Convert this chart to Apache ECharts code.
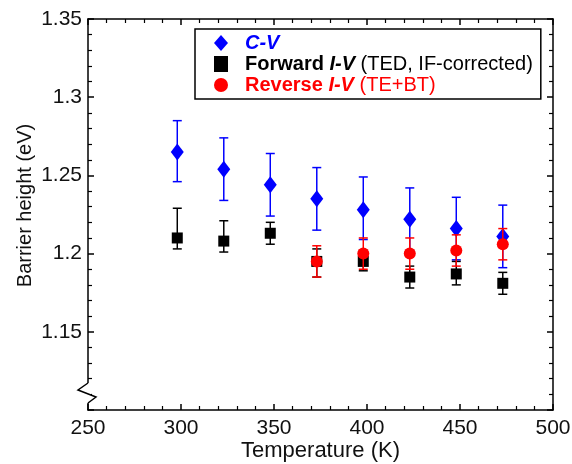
<!DOCTYPE html>
<html>
<head>
<meta charset="utf-8">
<script src="https://cdn.jsdelivr.net/npm/echarts@6/dist/echarts.min.js"></script>
<style>
  html, body { margin: 0; padding: 0; background: #fff; }
  #chart { width: 572px; height: 464px; }
</style>
</head>
<body>
<div id="chart"></div>
<script>
var temps = [298, 323, 348, 373, 398, 423, 448, 473];

var cvVal  = [1.265, 1.254, 1.244, 1.235, 1.228, 1.222, 1.216, 1.211];
var cvLow  = [1.246, 1.234, 1.224, 1.215, 1.209, 1.202, 1.196, 1.191];
var cvHigh = [1.285, 1.274, 1.264, 1.255, 1.249, 1.242, 1.236, 1.231];

var fwdVal  = [1.210, 1.208, 1.213, 1.195, 1.195, 1.185, 1.187, 1.181];
var fwdLow  = [1.203, 1.201, 1.206, 1.185, 1.189, 1.178, 1.180, 1.174];
var fwdHigh = [1.229, 1.221, 1.220, 1.203, 1.202, 1.192, 1.195, 1.188];

var revTemps = [373, 398, 423, 448, 473];
var revVal  = [1.195, 1.200, 1.200, 1.202, 1.206];
var revLow  = [1.185, 1.190, 1.190, 1.192, 1.196];
var revHigh = [1.205, 1.210, 1.210, 1.212, 1.216];

var yTicks = [1.15, 1.2, 1.25, 1.3, 1.35];

var font = 'Liberation Sans, Arial, Helvetica, sans-serif';

function points(xs, ys) {
    return xs.map(function (x, i) { return [x, ys[i]]; });
}
function bars(xs, lo, hi) {
    return xs.map(function (x, i) { return [x, lo[i], hi[i]]; });
}

function errorBar(color) {
    return function (params, api) {
        var top = api.coord([api.value(0), api.value(2)]);
        var bot = api.coord([api.value(0), api.value(1)]);
        var w = 4.5;
        var style = { stroke: color, lineWidth: 1.5 };
        return {
            type: 'group',
            children: [
                { type: 'line', shape: { x1: top[0], y1: top[1], x2: bot[0], y2: bot[1] }, style: style },
                { type: 'line', shape: { x1: top[0] - w, y1: top[1], x2: top[0] + w, y2: top[1] }, style: style },
                { type: 'line', shape: { x1: bot[0] - w, y1: bot[1], x2: bot[0] + w, y2: bot[1] }, style: style }
            ]
        };
    };
}

var chart = echarts.init(document.getElementById('chart'));

function axisLine() { return { show: true, lineStyle: { color: '#000', width: 1.5 } }; }
function tick() { return { show: true, inside: true, length: 6, lineStyle: { color: '#000', width: 1.5 } }; }
function minor() { return { show: true, splitNumber: 5, length: 4, lineStyle: { color: '#000', width: 1.2 } }; }

var rs = function (o) {
    o.fontFamily = font;
    o.fontSize = 20;
    o.lineHeight = 19;
    return o;
};

var option = {
    animation: false,
    backgroundColor: '#fff',
    grid: { left: 88, right: 19, top: 19, bottom: 54, outerBoundsMode: 'none', containLabel: false },
    legend: {
        orient: 'vertical',
        left: 195,
        top: 29,
        padding: [4, 8, 4, 19],
        itemGap: 1,
        itemWidth: 14,
        itemHeight: 16,
        borderColor: '#000',
        borderWidth: 1.5,
        backgroundColor: '#fff',
        textStyle: {
            fontFamily: font,
            fontSize: 20,
            lineHeight: 19,
            rich: {
                sp: rs({ width: 12 }),
                cv: rs({ fontWeight: 'bold', fontStyle: 'italic', color: '#0000ff' }),
                kb: rs({ fontWeight: 'bold', color: '#000' }),
                kbi: rs({ fontWeight: 'bold', fontStyle: 'italic', color: '#000' }),
                kn: rs({ color: '#000' }),
                rb: rs({ fontWeight: 'bold', color: '#ff0000' }),
                rbi: rs({ fontWeight: 'bold', fontStyle: 'italic', color: '#ff0000' }),
                rn: rs({ color: '#ff0000' })
            }
        },
        formatter: function (name) {
            if (name === 'C-V') return '{sp|}{cv|C-V}';
            if (name === 'Forward I-V') return '{sp|}{kb|Forward }{kbi|I-V}{kn| (TED, IF-corrected)}';
            return '{sp|}{rb|Reverse }{rbi|I-V}{rn| (TE+BT)}';
        },
        data: [
            { name: 'C-V', icon: 'diamond' },
            { name: 'Forward I-V', icon: 'rect', itemStyle: { borderWidth: 0 } },
            { name: 'Reverse I-V', icon: 'circle' }
        ]
    },
    xAxis: [
        {
            type: 'value',
            min: 250,
            max: 500,
            interval: 50,
            name: 'Temperature (K)',
            nameLocation: 'middle',
            nameGap: 30,
            nameMoveOverlap: false,
            nameTextStyle: { fontFamily: font, fontSize: 22, color: '#111' },
            axisLine: axisLine(),
            axisTick: tick(),
            minorTick: minor(),
            splitLine: { show: false },
            axisLabel: { fontFamily: font, fontSize: 21, color: '#111', margin: 8 }
        },
        {
            type: 'value',
            position: 'top',
            min: 250,
            max: 500,
            interval: 50,
            axisLine: axisLine(),
            axisTick: tick(),
            minorTick: minor(),
            splitLine: { show: false },
            axisLabel: { show: false }
        }
    ],
    yAxis: [
        {
            type: 'value',
            min: 1.1,
            max: 1.35,
            interval: 0.05,
            name: 'Barrier height (eV)',
            nameLocation: 'middle',
            nameGap: 53,
            nameMoveOverlap: false,
            nameTextStyle: { fontFamily: font, fontSize: 20, color: '#111', padding: [0, 0, 0, 18] },
            axisLine: axisLine(),
            axisTick: tick(),
            minorTick: minor(),
            splitLine: { show: false },
            axisLabel: {
                fontFamily: font,
                fontSize: 21,
                color: '#111',
                margin: 6,
                formatter: function (v) {
                    for (var i = 0; i < yTicks.length; i++) {
                        if (Math.abs(v - yTicks[i]) < 1e-6) return String(yTicks[i]);
                    }
                    return '';
                }
            }
        },
        {
            type: 'value',
            position: 'right',
            min: 1.1,
            max: 1.35,
            interval: 0.05,
            axisLine: axisLine(),
            axisTick: tick(),
            minorTick: minor(),
            splitLine: { show: false },
            axisLabel: { show: false }
        }
    ],
    series: [
        {
            type: 'custom',
            name: 'cvErr',
            renderItem: errorBar('#0000ff'),
            data: bars(temps, cvLow, cvHigh),
            z: 2
        },
        {
            type: 'scatter',
            name: 'C-V',
            symbol: 'diamond',
            symbolSize: [13, 17],
            itemStyle: { color: '#0000ff', opacity: 1 },
            data: points(temps, cvVal),
            z: 3
        },
        {
            type: 'custom',
            name: 'fwdErr',
            renderItem: errorBar('#000000'),
            data: bars(temps, fwdLow, fwdHigh),
            z: 4
        },
        {
            type: 'scatter',
            name: 'Forward I-V',
            symbol: 'rect',
            symbolSize: 11,
            itemStyle: { color: '#000000', opacity: 1 },
            data: points(temps, fwdVal),
            z: 5
        },
        {
            type: 'custom',
            name: 'revErr',
            renderItem: errorBar('#ff0000'),
            data: bars(revTemps, revLow, revHigh),
            z: 6
        },
        {
            type: 'scatter',
            name: 'Reverse I-V',
            symbol: 'circle',
            symbolSize: 12,
            itemStyle: { color: '#ff0000', opacity: 1 },
            data: points(revTemps, revVal),
            z: 7
        }
    ],
    graphic: [
        // axis break mark
        { type: 'rect', z: 100, shape: { x: 85, y: 383, width: 6, height: 20 }, style: { fill: '#fff' } },
        { type: 'polyline', z: 101, shape: { points: [[88, 383], [78, 390], [96, 397], [88, 403]] }, style: { stroke: '#000', lineWidth: 1.5, fill: null } }
    ]
};

chart.setOption(option);
</script>
</body>
</html>
